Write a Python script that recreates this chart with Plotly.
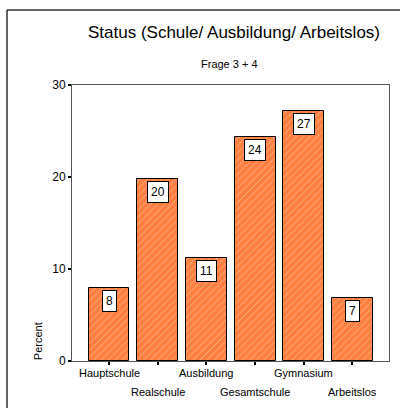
import plotly.graph_objects as go

categories = ["Hauptschule", "Realschule", "Ausbildung", "Gesamtschule", "Gymnasium", "Arbeitslos"]
percent = [7.9, 19.8, 11.2, 24.3, 27.2, 6.8]
value_labels = ["8", "20", "11", "24", "27", "7"]
y_ticks = [0, 10, 20, 30]

font = "Liberation Sans, Arial, sans-serif"
orange = "#FF8040"
axis_grey = "#555555"

fig = go.Figure(
    go.Bar(
        x=categories,
        y=percent,
        width=0.84,
        marker=dict(
            color=orange,
            line=dict(color="black", width=1),
            pattern=dict(shape="/", fgcolor="white", bgcolor=orange, size=5, solidity=0.15),
        ),
        hoverinfo="skip",
    )
)

# white value boxes just under each bar top
for cat, val, lab in zip(categories, percent, value_labels):
    fig.add_annotation(
        x=cat, y=val, text=lab, showarrow=False, yanchor="top", yshift=-2,
        bgcolor="white", bordercolor="black", borderwidth=1, borderpad=3,
        font=dict(size=12, color="black", family=font),
    )

# staggered category labels
for i, cat in enumerate(categories):
    fig.add_annotation(
        x=cat, y=0, yref="paper", text=cat, showarrow=False, yanchor="top",
        yshift=-4 if i % 2 == 0 else -23,
        font=dict(size=11, color="black", family=font),
    )

fig.add_annotation(
    text="Status (Schule/ Ausbildung/ Arbeitslos)", xref="paper", yref="paper",
    x=0.511, y=1.192, xanchor="center", yanchor="middle", showarrow=False,
    font=dict(size=17, color="black", family=font),
)
fig.add_annotation(
    text="Frage 3 + 4", xref="paper", yref="paper",
    x=0.498, y=1.076, xanchor="center", yanchor="middle", showarrow=False,
    font=dict(size=11, color="black", family=font),
)
fig.add_annotation(
    text="Percent", xref="paper", yref="paper", x=-0.107, y=0.072,
    xanchor="center", yanchor="middle", textangle=-90, showarrow=False,
    font=dict(size=11, color="black", family=font),
)

# outer frame (only top and left edges visible)
fig.add_shape(type="line", xref="paper", yref="paper", x0=-0.205, x1=1.05, y0=1.2717, y1=1.2717,
              line=dict(color="#333333", width=1.5))
fig.add_shape(type="line", xref="paper", yref="paper", x0=-0.205, x1=-0.205, y0=-0.2, y1=1.2717,
              line=dict(color="#333333", width=1.5))

fig.update_layout(
    width=400,
    height=408,
    margin=dict(l=72, r=11, t=85, b=47),
    paper_bgcolor="white",
    plot_bgcolor="white",
    showlegend=False,
    bargap=0,
    font=dict(family=font, size=11, color="black"),
    xaxis=dict(
        type="category", range=[-0.76, 5.75], showticklabels=False,
        ticks="outside", ticklen=3, tickwidth=2, tickcolor="black",
        showline=True, linecolor=axis_grey, linewidth=1, mirror=True,
        showgrid=False, zeroline=False, fixedrange=True,
    ),
    yaxis=dict(
        range=[0, 30], tickvals=y_ticks, ticks="outside", ticklen=3, tickwidth=2,
        tickcolor="black", tickfont=dict(size=12, family=font, color="black"),
        showline=True, linecolor=axis_grey, linewidth=1, mirror=True,
        showgrid=False, zeroline=False, fixedrange=True,
    ),
)

# page body has a default 8px margin; drop it so the figure sits at the corner
fig.write_html("out.html", post_script="document.body.style.margin='0';", config={"displayModeBar": False})
